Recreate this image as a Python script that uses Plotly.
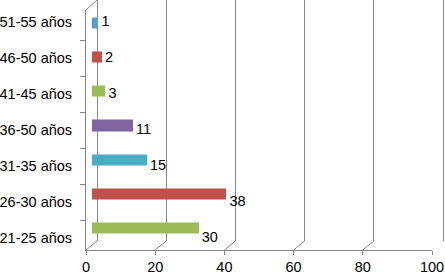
import plotly.graph_objects as go

categories = ["21-25 años", "26-30 años", "31-35 años", "36-50 años", "41-45 años", "46-50 años", "51-55 años"]
values = [30, 38, 15, 11, 3, 2, 1]
colors = ["#9BBB59", "#C0504D", "#4BACC6", "#8064A2", "#9BBB59", "#C0504D", "#5A9BD5"]
x_ticks = [0, 20, 40, 60, 80, 100]

W, H = 445, 276
L, R, T, B = 86, 0, 0, 26
pw, ph = W - L - R, H - T - B
front_w = 346
px_per_unit = front_w / 100
depth_x, depth_y = 11, 9
grid_col = "#868686"
pad = 0.5  # range padding so edge gridlines are drawn

font = dict(family="Liberation Sans, Arial", size=14.5, color="black")

fig = go.Figure()

# bars (mid-depth plane)
fig.add_trace(go.Bar(
    x=values, y=categories, orientation="h",
    marker=dict(color=colors, line=dict(color=colors, width=6)),
    width=0.15,
    xaxis="x3", yaxis="y3", hoverinfo="skip",
))

# value labels
fig.add_trace(go.Scatter(
    x=values, y=categories, mode="text",
    text=[str(v) for v in values], textposition="middle right",
    textfont=font, cliponaxis=False,
    xaxis="x4", yaxis="y4", hoverinfo="skip", showlegend=False,
))

# helper trace for back wall gridlines
fig.add_trace(go.Scatter(x=x_ticks, y=[0] * len(x_ticks), mode="none",
                         xaxis="x2", yaxis="y2", hoverinfo="skip", showlegend=False))

# front axes helper (categories)
fig.add_trace(go.Scatter(x=[None] * len(categories), y=categories, mode="none",
                         xaxis="x", yaxis="y", hoverinfo="skip", showlegend=False))

fig.update_layout(
    template="none",
    width=W, height=H,
    margin=dict(l=L, r=R, t=T, b=B, pad=0),
    paper_bgcolor="white", plot_bgcolor="rgba(0,0,0,0)",
    showlegend=False,
    bargap=0,
    font=font,
    xaxis=dict(domain=[0, front_w / pw], range=[0, 100], tickvals=x_ticks,
               showgrid=False, zeroline=False, showline=True, linecolor=grid_col,
               linewidth=1, ticks="outside", ticklen=4, tickcolor=grid_col,
               tickfont=font, ticklabelstandoff=0, automargin=False, anchor="y"),
    yaxis=dict(domain=[0, (ph - 10) / ph], type="category", categoryorder="array",
               categoryarray=categories, showgrid=False, zeroline=False,
               showline=True, linecolor=grid_col, linewidth=1,
               ticks="outside", ticklen=5, tickcolor=grid_col, tickson="boundaries",
               tickfont=font, ticklabelstandoff=10, automargin=False, anchor="x"),
    xaxis2=dict(domain=[(depth_x - pad * px_per_unit) / pw,
                        (depth_x + front_w + pad * px_per_unit) / pw],
                range=[-pad, 100 + pad], tickvals=x_ticks,
                showgrid=True, gridcolor=grid_col, gridwidth=1.3, zeroline=False,
                showline=False, showticklabels=False, ticks="", automargin=False,
                anchor="y2"),
    yaxis2=dict(domain=[depth_y / ph, 1], range=[0, 1], visible=False,
                automargin=False, anchor="x2"),
    xaxis3=dict(domain=[6 / pw, (6 + front_w) / pw], range=[0, 100], visible=False,
                automargin=False, anchor="y3"),
    yaxis3=dict(domain=[4.5 / ph, (ph - 5.5) / ph], type="category",
                categoryorder="array", categoryarray=categories, visible=False,
                automargin=False, anchor="x3"),
    xaxis4=dict(domain=[12 / pw, (12 + front_w) / pw], range=[0, 100], visible=False,
                automargin=False, anchor="y4"),
    yaxis4=dict(domain=[0, (ph - 10) / ph], type="category",
                categoryorder="array", categoryarray=categories, visible=False,
                automargin=False, anchor="x4"),
)

shapes = []
for v in x_ticks:
    shapes.append(dict(type="line", xref="x", yref="y domain",
                       xsizemode="pixel", xanchor=v, x0=0, x1=depth_x,
                       ysizemode="pixel", yanchor=0, y0=0, y1=depth_y,
                       line=dict(color=grid_col, width=1)))
shapes.append(dict(type="line", xref="x", yref="y domain",
                   xsizemode="pixel", xanchor=x_ticks[0], x0=0, x1=depth_x,
                   ysizemode="pixel", yanchor=1, y0=0, y1=10,
                   line=dict(color=grid_col, width=1)))
fig.update_layout(shapes=shapes)

fig.write_html("out.html")
